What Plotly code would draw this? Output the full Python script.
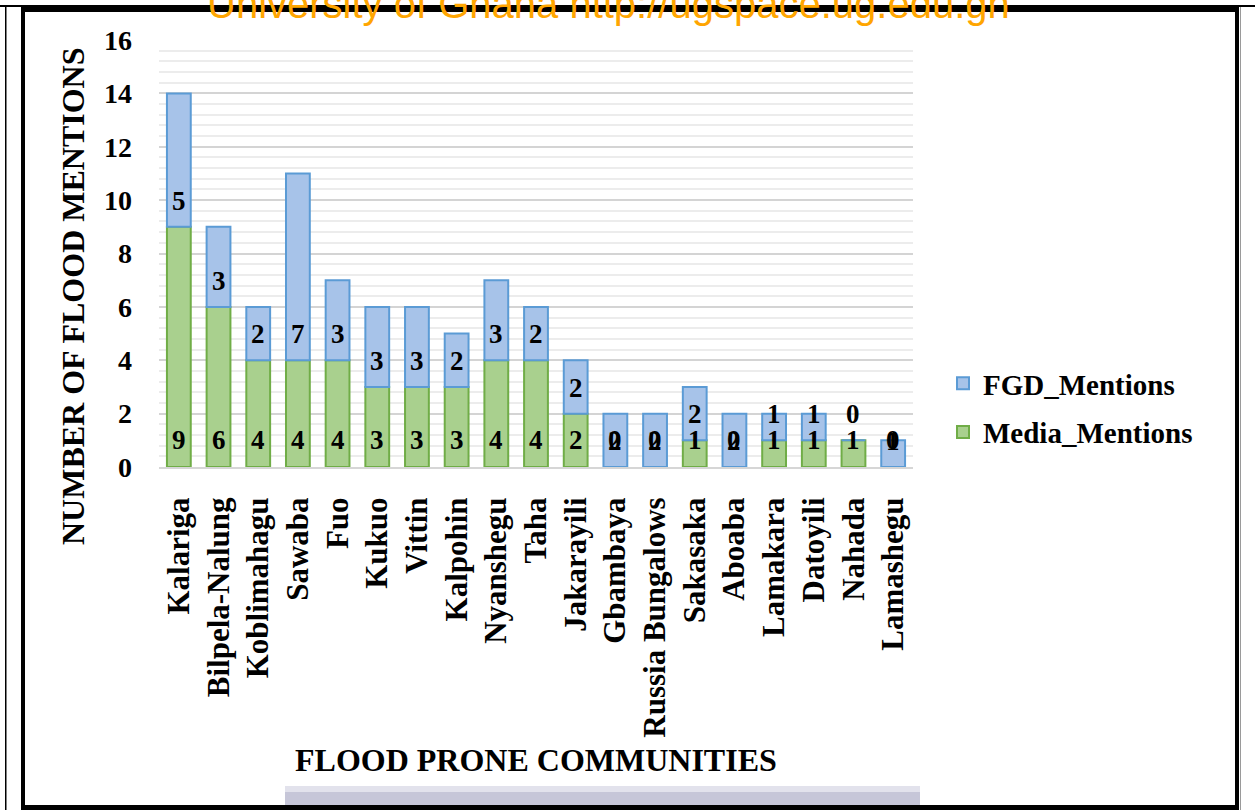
import plotly.graph_objects as go

# Flood mentions per community
communities = [
    "Kalariga", "Bilpela-Nalung", "Koblimahagu", "Sawaba", "Fuo", "Kukuo",
    "Vittin", "Kalpohin", "Nyanshegu", "Taha", "Jakarayili", "Gbambaya",
    "Russia Bungalows", "Sakasaka", "Aboaba", "Lamakara", "Datoyili",
    "Nahada", "Lamashegu",
]
media_mentions = [9, 6, 4, 4, 4, 3, 3, 3, 4, 4, 2, 0, 0, 1, 0, 1, 1, 1, 0]
fgd_mentions = [5, 3, 2, 7, 3, 3, 3, 2, 3, 2, 2, 2, 2, 2, 2, 1, 1, 0, 1]

y_ticks = [0, 2, 4, 6, 8, 10, 12, 14, 16]

W, H = 1255, 810
L, R, T, B = 159, 342, 40, 343
PW, PH = W - L - R, H - T - B

SERIF = "Liberation Serif, Times New Roman, serif"


def px(x):
    return (x - L) / PW


def py(y):
    return (H - B - y) / PH


fig = go.Figure()
fig.add_trace(go.Bar(
    name="Media_Mentions", x=communities, y=media_mentions,
    marker=dict(color="#a9d08e", line=dict(color="#70ad47", width=2)),
    legendgroup="media", legendrank=2, hoverinfo="skip",
))
fig.add_trace(go.Bar(
    name="FGD_Mentions", x=communities, y=fgd_mentions, base=media_mentions,
    marker=dict(color="#a7c3e9", line=dict(color="#5b9bd5", width=2)),
    legendgroup="fgd", legendrank=1, hoverinfo="skip",
))

annotations = []
# value labels sit just above the base of each segment
for c, m, f in zip(communities, media_mentions, fgd_mentions):
    annotations.append(dict(x=c, y=0, text=str(m), showarrow=False,
                            yanchor="middle", yshift=27,
                            font=dict(family=SERIF, size=27, color="black",
                                      weight="bold")))
    annotations.append(dict(x=c, y=m, text=str(f), showarrow=False,
                            yanchor="middle", yshift=26,
                            font=dict(family=SERIF, size=27, color="black",
                                      weight="bold")))

# axis titles
annotations.append(dict(xref="paper", yref="paper", x=px(536), y=py(760),
                        text="FLOOD PRONE COMMUNITIES", showarrow=False,
                        xanchor="center", yanchor="middle",
                        font=dict(family=SERIF, size=32, color="black",
                                  weight="bold")))
annotations.append(dict(xref="paper", yref="paper", x=px(73), y=py(296),
                        text="NUMBER OF FLOOD MENTIONS", showarrow=False,
                        textangle=-90, xanchor="center", yanchor="middle",
                        font=dict(family=SERIF, size=32, color="black",
                                  weight="bold")))
# repository watermark
annotations.append(dict(xref="paper", yref="paper", x=px(608), y=py(4),
                        text="University of Ghana http://ugspace.ug.edu.gh",
                        showarrow=False, xanchor="center", yanchor="middle",
                        font=dict(family="Liberation Sans, Arial, sans-serif",
                                  size=40, color="#ffa500")))

shapes = [
    # page frame
    dict(type="rect", xref="paper", yref="paper", x0=px(0), x1=px(W),
         y0=py(5), y1=py(7), fillcolor="black", line_width=0, layer="above"),
    dict(type="rect", xref="paper", yref="paper", x0=px(21), x1=px(1239),
         y0=py(5), y1=py(12), fillcolor="black", line_width=0, layer="above"),
    dict(type="rect", xref="paper", yref="paper", x0=px(5), x1=px(6.5),
         y0=py(5), y1=py(H), fillcolor="black", line_width=0, layer="above"),
    dict(type="rect", xref="paper", yref="paper", x0=px(21), x1=px(25),
         y0=py(5), y1=py(H), fillcolor="black", line_width=0, layer="above"),
    dict(type="rect", xref="paper", yref="paper", x0=px(1235), x1=px(1239),
         y0=py(5), y1=py(H), fillcolor="black", line_width=0, layer="above"),
    dict(type="rect", xref="paper", yref="paper", x0=px(1240), x1=px(1241),
         y0=py(7), y1=py(H), fillcolor="#9a9a9a", line_width=0, layer="above"),
    dict(type="rect", xref="paper", yref="paper", x0=px(21), x1=px(1239),
         y0=py(805), y1=py(H), fillcolor="black", line_width=0, layer="above"),
    # strip of the next page's image
    dict(type="rect", xref="paper", yref="paper", x0=px(285), x1=px(920),
         y0=py(786), y1=py(792), fillcolor="#e2e2ec", line_width=0),
    dict(type="rect", xref="paper", yref="paper", x0=px(285), x1=px(920),
         y0=py(792), y1=py(805), fillcolor="#c6c6d8", line_width=0),
]

fig.update_layout(
    width=W, height=H,
    margin=dict(l=L, r=R, t=T, b=B, autoexpand=False),
    barmode="overlay", bargap=0.4,
    paper_bgcolor="white", plot_bgcolor="white",
    showlegend=True,
    legend=dict(x=px(943), xanchor="left", y=py(408), yanchor="middle",
                font=dict(family=SERIF, size=29, color="black", weight="bold"),
                tracegroupgap=8, bgcolor="rgba(0,0,0,0)"),
    annotations=annotations,
    shapes=shapes,
)

fig.update_xaxes(
    type="category", tickangle=-90, automargin=False,
    showline=True, linecolor="#d6d6d6", linewidth=2,
    showgrid=False, ticks="", ticklabelstandoff=16,
    tickfont=dict(family=SERIF, size=31, color="black", weight="bold"),
)
fig.update_yaxes(
    range=[0, 16], tickvals=y_ticks, automargin=False,
    showgrid=True, gridcolor="#d4d4d4", gridwidth=2,
    zeroline=False, showline=False, ticks="", ticklabelstandoff=26,
    tickfont=dict(family=SERIF, size=28, color="black", weight="bold"),
    minor=dict(dtick=0.4, tick0=0, showgrid=True, gridcolor="#ececec",
               gridwidth=1.5),
)

fig.write_html("out.html")
